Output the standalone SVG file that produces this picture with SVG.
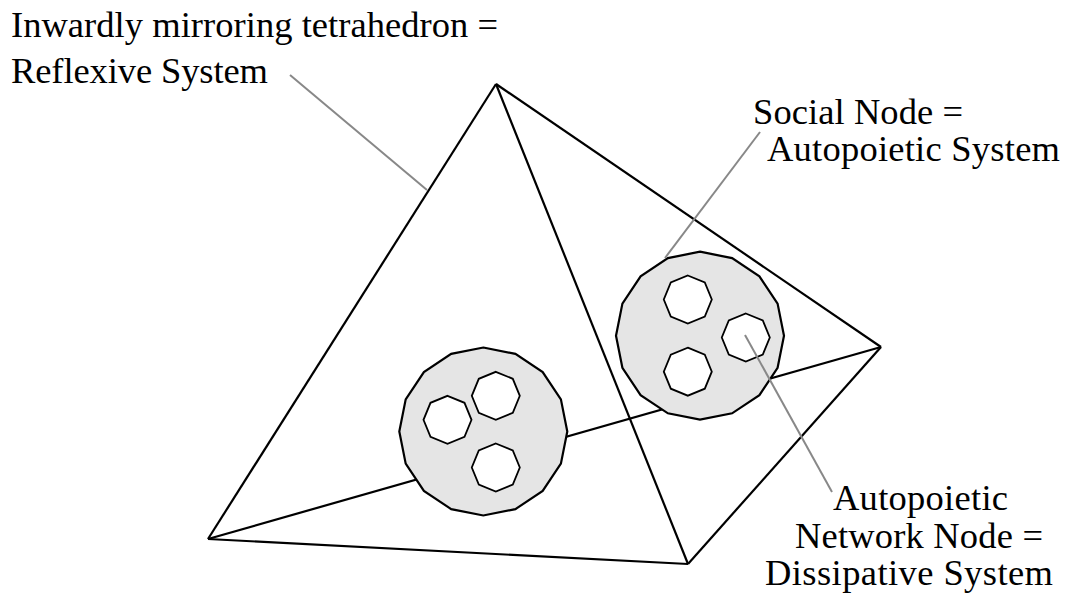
<svg xmlns="http://www.w3.org/2000/svg" width="1067" height="599" viewBox="0 0 1067 599">
<style>
.edge{stroke:#000;stroke-width:2.2;fill:none;stroke-linejoin:miter}
.leader{stroke:#888;stroke-width:2;fill:none}
.big{fill:#e5e5e5;stroke:#000;stroke-width:2.2}
.small{fill:#fff;stroke:#000;stroke-width:1.8}
</style>
<rect width="1067" height="599" fill="#fff"/>
<g id="connectors">
<line class="edge" x1="208" y1="539" x2="881" y2="347"/>
<line class="edge" x1="496" y1="84" x2="208" y2="539"/>
<line class="edge" x1="496" y1="84" x2="688" y2="564"/>
<line class="edge" x1="208" y1="539" x2="688" y2="564"/>
<line class="edge" x1="688" y1="564" x2="881" y2="347"/>
<line class="edge" x1="496" y1="84" x2="881" y2="347"/>
</g>
<g id="node-network">
<polygon class="big" points="483.3,347.5 515.4,353.9 542.7,372.1 560.9,399.4 567.3,431.5 560.9,463.6 542.7,490.9 515.4,509.1 483.3,515.5 451.2,509.1 423.9,490.9 405.7,463.6 399.3,431.5 405.7,399.4 423.9,372.1 451.2,353.9"/>
<polygon class="small" points="495.8,371.8 512.8,378.8 519.8,395.8 512.8,412.8 495.8,419.8 478.8,412.8 471.8,395.8 478.8,378.8"/>
<polygon class="small" points="447.5,395.8 464.5,402.8 471.5,419.8 464.5,436.8 447.5,443.8 430.5,436.8 423.5,419.8 430.5,402.8"/>
<polygon class="small" points="495.8,443.5 512.8,450.5 519.8,467.5 512.8,484.5 495.8,491.5 478.8,484.5 471.8,467.5 478.8,450.5"/>
</g>
<g id="node-social">
<polygon class="big" points="700,251.7 732.1,258.1 759.4,276.3 777.6,303.6 784,335.7 777.6,367.8 759.4,395.1 732.1,413.3 700,419.7 667.9,413.3 640.6,395.1 622.4,367.8 616,335.7 622.4,303.6 640.6,276.3 667.9,258.1"/>
<polygon class="small" points="687.8,275.5 704.8,282.5 711.8,299.5 704.8,316.5 687.8,323.5 670.8,316.5 663.8,299.5 670.8,282.5"/>
<polygon class="small" points="745.8,313.5 762.8,320.5 769.8,337.5 762.8,354.5 745.8,361.5 728.8,354.5 721.8,337.5 728.8,320.5"/>
<polygon class="small" points="687.8,347.7 704.8,354.7 711.8,371.7 704.8,388.7 687.8,395.7 670.8,388.7 663.8,371.7 670.8,354.7"/>
</g>
<g id="leaders">
<line class="leader" x1="290" y1="75" x2="427" y2="190"/>
<line class="leader" x1="760" y1="132" x2="665" y2="258"/>
<line class="leader" x1="745" y1="335" x2="832" y2="492"/>
</g>
<g id="label-reflexive">
<text x="11" y="37" font-family="Liberation Serif" font-size="36.5" textLength="487">Inwardly mirroring tetrahedron =</text>
<text x="11" y="83" font-family="Liberation Serif" font-size="36.5" textLength="257">Reflexive System</text>
</g>
<g id="label-social">
<text x="753" y="124" font-family="Liberation Serif" font-size="36.5" textLength="210">Social Node =</text>
<text x="767" y="161" font-family="Liberation Serif" font-size="36.5" textLength="293">Autopoietic System</text>
</g>
<g id="label-network">
<text x="833" y="510" font-family="Liberation Serif" font-size="36.5" textLength="175">Autopoietic</text>
<text x="795" y="548" font-family="Liberation Serif" font-size="36.5" textLength="248">Network Node =</text>
<text x="765" y="585" font-family="Liberation Serif" font-size="36.5" textLength="288">Dissipative System</text>
</g>
</svg>
